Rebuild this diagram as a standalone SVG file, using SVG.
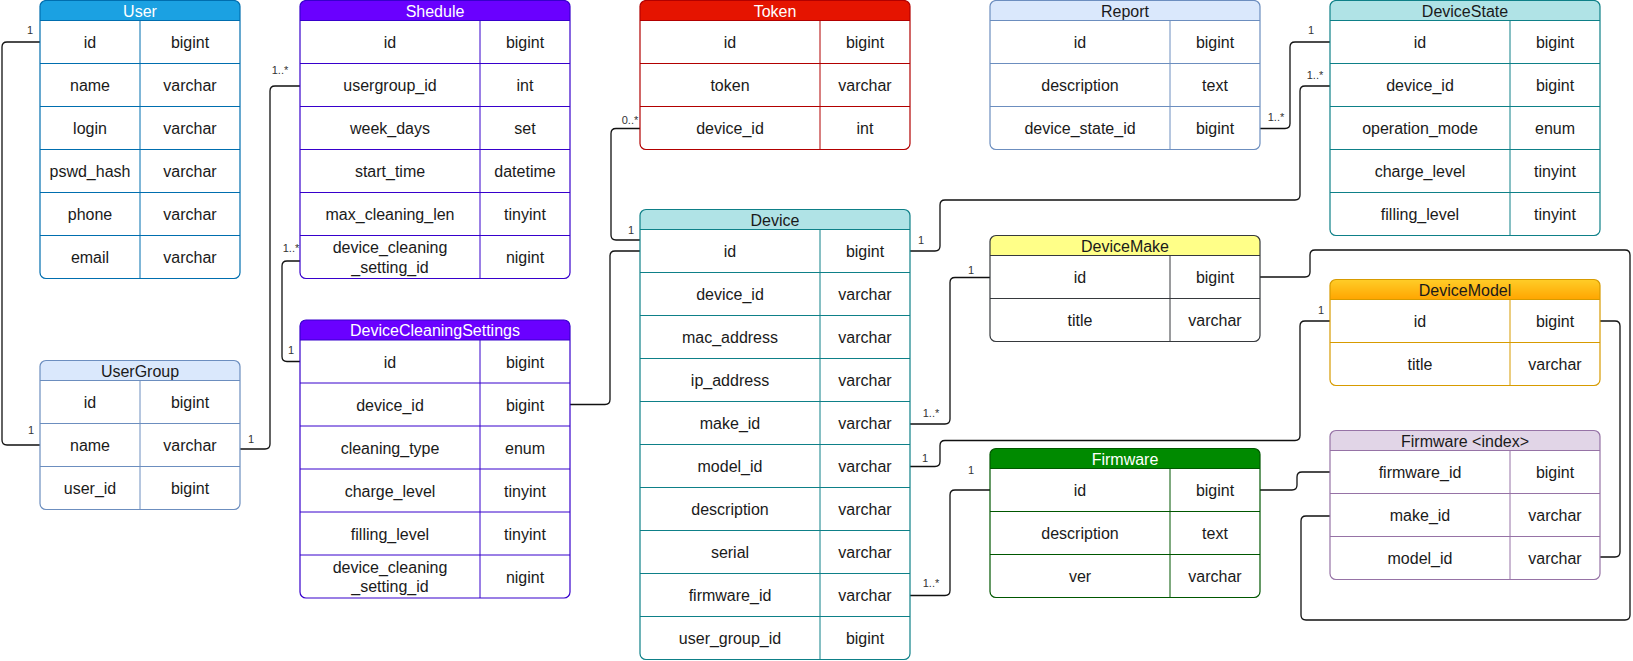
<svg xmlns="http://www.w3.org/2000/svg" width="1633" height="661" viewBox="0 0 1633 661">
  <defs>
    <linearGradient id="gradOrange" x1="0" y1="0" x2="0" y2="1">
      <stop offset="0" stop-color="#ffcd28"/>
      <stop offset="1" stop-color="#ffa500"/>
    </linearGradient>
  </defs>
  <style>
    text { font-family: "Liberation Sans", Arial, Helvetica, sans-serif; }
    .body { fill: #ffffff; stroke: none; }
    .frame { fill: none; stroke-width: 1.2; }
    .grid { fill: none; stroke-width: 1; }
    .cell { font-size: 16px; fill: #1a1a1a; text-anchor: middle; }
    .title { font-size: 16px; text-anchor: middle; fill: #1a1a1a; }
    .light .title { fill: #ffffff; }
    .blue .frame, .blue .grid { stroke: #006eaf; } .blue .hdr { fill: #1ba1e2; }
    .violet .frame, .violet .grid { stroke: #3700cc; } .violet .hdr { fill: #6a00ff; }
    .red .frame, .red .grid { stroke: #b20000; } .red .hdr { fill: #e51400; }
    .pale .frame, .pale .grid { stroke: #6c8ebf; } .pale .hdr { fill: #dae8fc; }
    .teal .frame, .teal .grid { stroke: #0e8088; } .teal .hdr { fill: #b0e3e6; }
    .yellow .frame, .yellow .grid { stroke: #36393d; } .yellow .hdr { fill: #ffff88; }
    .orange .frame, .orange .grid { stroke: #d79b00; } .orange .hdr { fill: url(#gradOrange); }
    .green .frame, .green .grid { stroke: #005700; } .green .hdr { fill: #008a00; }
    .purple .frame, .purple .grid { stroke: #9673a6; } .purple .hdr { fill: #e1d5e7; }
    .edge { fill: none; stroke: #111111; stroke-width: 1.3; }
    .lbl { font-size: 11px; fill: #333333; text-anchor: middle; }
  </style>

  <!-- connectors -->
  <g id="connectors">
    <path class="edge" d="M40,42 H7 Q2,42 2,47 V440 Q2,445 7,445 H40"/>
    <path class="edge" d="M240,449 H265 Q270,449 270,444 V91 Q270,86 275,86 H300"/>
    <path class="edge" d="M300,261 H287 Q282,261 282,266 V356.5 Q282,361.5 287,361.5 H300"/>
    <path class="edge" d="M570,404.5 H605 Q610,404.5 610,399.5 V256 Q610,251 615,251 H640"/>
    <path class="edge" d="M640,128.5 H616 Q611,128.5 611,133.5 V235 Q611,240 616,240 H640"/>
    <path class="edge" d="M910,251 H935 Q940,251 940,246 V205 Q940,200 945,200 H1295 Q1300,200 1300,195 V91 Q1300,86 1305,86 H1330"/>
    <path class="edge" d="M1260,128.5 H1285 Q1290,128.5 1290,123.5 V47 Q1290,42 1295,42 H1330"/>
    <path class="edge" d="M910,424 H945 Q950,424 950,419 V282.5 Q950,277.5 955,277.5 H990"/>
    <path class="edge" d="M910,466.5 H935 Q940,466.5 940,461.5 V445.5 Q940,440.5 945,440.5 H1295 Q1300,440.5 1300,435.5 V326 Q1300,321 1305,321 H1330"/>
    <path class="edge" d="M910,595.5 H945 Q950,595.5 950,590.5 V495 Q950,490 955,490 H990"/>
    <path class="edge" d="M1260,490 H1292 Q1297,490 1297,485 V477 Q1297,472 1302,472 H1330"/>
    <path class="edge" d="M1260,277 H1305 Q1310,277 1310,272 V255 Q1310,250 1315,250 H1625 Q1630,250 1630,255 V615 Q1630,620 1625,620 H1306 Q1301,620 1301,615 V521 Q1301,516 1306,516 H1330"/>
    <path class="edge" d="M1600,321 H1615 Q1620,321 1620,326 V552 Q1620,557 1615,557 H1600"/>

    <!-- multiplicities -->
    <text class="lbl" x="30" y="34">1</text>
    <text class="lbl" x="31" y="434">1</text>
    <text class="lbl" x="251" y="443">1</text>
    <text class="lbl" x="280" y="74">1..*</text>
    <text class="lbl" x="291" y="252">1..*</text>
    <text class="lbl" x="291" y="354">1</text>
    <text class="lbl" x="630" y="124">0..*</text>
    <text class="lbl" x="631" y="234">1</text>
    <text class="lbl" x="921" y="244">1</text>
    <text class="lbl" x="1315" y="79">1..*</text>
    <text class="lbl" x="1276" y="121">1..*</text>
    <text class="lbl" x="1311" y="34">1</text>
    <text class="lbl" x="931" y="417">1..*</text>
    <text class="lbl" x="971" y="274">1</text>
    <text class="lbl" x="925" y="462">1</text>
    <text class="lbl" x="1321" y="314">1</text>
    <text class="lbl" x="931" y="587">1..*</text>
    <text class="lbl" x="971" y="474">1</text>
  </g>

  <!-- User -->
  <g id="user" class="blue light">
    <rect class="body" x="40" y="0.5" width="200" height="278" rx="6"/>
    <path class="hdr" d="M40,20.5 V6.5 A6,6 0 0 1 46,0.5 H234 A6,6 0 0 1 240,6.5 V20.5 Z"/>
    <path class="grid" d="M40,20.5 H240 M40,63.5 H240 M40,106.5 H240 M40,149.5 H240 M40,192.5 H240 M40,235.5 H240 M140,20.5 V278.5"/>
    <rect class="frame" x="40" y="0.5" width="200" height="278" rx="6"/>
    <text class="title" x="140" y="16.5">User</text>
    <text class="cell" x="90" y="48">id</text><text class="cell" x="190" y="48">bigint</text>
    <text class="cell" x="90" y="91">name</text><text class="cell" x="190" y="91">varchar</text>
    <text class="cell" x="90" y="134">login</text><text class="cell" x="190" y="134">varchar</text>
    <text class="cell" x="90" y="177">pswd_hash</text><text class="cell" x="190" y="177">varchar</text>
    <text class="cell" x="90" y="220">phone</text><text class="cell" x="190" y="220">varchar</text>
    <text class="cell" x="90" y="263">email</text><text class="cell" x="190" y="263">varchar</text>
  </g>

  <!-- Shedule -->
  <g id="shedule" class="violet light">
    <rect class="body" x="300" y="0.5" width="270" height="278" rx="6"/>
    <path class="hdr" d="M300,20.5 V6.5 A6,6 0 0 1 306,0.5 H564 A6,6 0 0 1 570,6.5 V20.5 Z"/>
    <path class="grid" d="M300,20.5 H570 M300,63.5 H570 M300,106.5 H570 M300,149.5 H570 M300,192.5 H570 M300,235.5 H570 M480,20.5 V278.5"/>
    <rect class="frame" x="300" y="0.5" width="270" height="278" rx="6"/>
    <text class="title" x="435" y="16.5">Shedule</text>
    <text class="cell" x="390" y="48">id</text><text class="cell" x="525" y="48">bigint</text>
    <text class="cell" x="390" y="91">usergroup_id</text><text class="cell" x="525" y="91">int</text>
    <text class="cell" x="390" y="134">week_days</text><text class="cell" x="525" y="134">set</text>
    <text class="cell" x="390" y="177">start_time</text><text class="cell" x="525" y="177">datetime</text>
    <text class="cell" x="390" y="220">max_cleaning_len</text><text class="cell" x="525" y="220">tinyint</text>
    <text class="cell" x="390" y="253">device_cleaning</text>
    <text class="cell" x="390" y="272.5">_setting_id</text>
    <text class="cell" x="525" y="263">nigint</text>
  </g>

  <!-- Token -->
  <g id="token" class="red light">
    <rect class="body" x="640" y="0.5" width="270" height="149" rx="6"/>
    <path class="hdr" d="M640,20.5 V6.5 A6,6 0 0 1 646,0.5 H904 A6,6 0 0 1 910,6.5 V20.5 Z"/>
    <path class="grid" d="M640,20.5 H910 M640,63.5 H910 M640,106.5 H910 M820,20.5 V149.5"/>
    <rect class="frame" x="640" y="0.5" width="270" height="149" rx="6"/>
    <text class="title" x="775" y="16.5">Token</text>
    <text class="cell" x="730" y="48">id</text><text class="cell" x="865" y="48">bigint</text>
    <text class="cell" x="730" y="91">token</text><text class="cell" x="865" y="91">varchar</text>
    <text class="cell" x="730" y="134">device_id</text><text class="cell" x="865" y="134">int</text>
  </g>

  <!-- Report -->
  <g id="report" class="pale">
    <rect class="body" x="990" y="0.5" width="270" height="149" rx="6"/>
    <path class="hdr" d="M990,20.5 V6.5 A6,6 0 0 1 996,0.5 H1254 A6,6 0 0 1 1260,6.5 V20.5 Z"/>
    <path class="grid" d="M990,20.5 H1260 M990,63.5 H1260 M990,106.5 H1260 M1170,20.5 V149.5"/>
    <rect class="frame" x="990" y="0.5" width="270" height="149" rx="6"/>
    <text class="title" x="1125" y="16.5">Report</text>
    <text class="cell" x="1080" y="48">id</text><text class="cell" x="1215" y="48">bigint</text>
    <text class="cell" x="1080" y="91">description</text><text class="cell" x="1215" y="91">text</text>
    <text class="cell" x="1080" y="134">device_state_id</text><text class="cell" x="1215" y="134">bigint</text>
  </g>

  <!-- DeviceState -->
  <g id="device-state" class="teal">
    <rect class="body" x="1330" y="0.5" width="270" height="235" rx="6"/>
    <path class="hdr" d="M1330,20.5 V6.5 A6,6 0 0 1 1336,0.5 H1594 A6,6 0 0 1 1600,6.5 V20.5 Z"/>
    <path class="grid" d="M1330,20.5 H1600 M1330,63.5 H1600 M1330,106.5 H1600 M1330,149.5 H1600 M1330,192.5 H1600 M1510,20.5 V235.5"/>
    <rect class="frame" x="1330" y="0.5" width="270" height="235" rx="6"/>
    <text class="title" x="1465" y="16.5">DeviceState</text>
    <text class="cell" x="1420" y="48">id</text><text class="cell" x="1555" y="48">bigint</text>
    <text class="cell" x="1420" y="91">device_id</text><text class="cell" x="1555" y="91">bigint</text>
    <text class="cell" x="1420" y="134">operation_mode</text><text class="cell" x="1555" y="134">enum</text>
    <text class="cell" x="1420" y="177">charge_level</text><text class="cell" x="1555" y="177">tinyint</text>
    <text class="cell" x="1420" y="220">filling_level</text><text class="cell" x="1555" y="220">tinyint</text>
  </g>

  <!-- UserGroup -->
  <g id="user-group" class="pale">
    <rect class="body" x="40" y="360.5" width="200" height="149" rx="6"/>
    <path class="hdr" d="M40,380.5 V366.5 A6,6 0 0 1 46,360.5 H234 A6,6 0 0 1 240,366.5 V380.5 Z"/>
    <path class="grid" d="M40,380.5 H240 M40,423.5 H240 M40,466.5 H240 M140,380.5 V509.5"/>
    <rect class="frame" x="40" y="360.5" width="200" height="149" rx="6"/>
    <text class="title" x="140" y="376.5">UserGroup</text>
    <text class="cell" x="90" y="408">id</text><text class="cell" x="190" y="408">bigint</text>
    <text class="cell" x="90" y="451">name</text><text class="cell" x="190" y="451">varchar</text>
    <text class="cell" x="90" y="494">user_id</text><text class="cell" x="190" y="494">bigint</text>
  </g>

  <!-- DeviceCleaningSettings -->
  <g id="device-cleaning-settings" class="violet light">
    <rect class="body" x="300" y="320" width="270" height="278" rx="6"/>
    <path class="hdr" d="M300,340 V326 A6,6 0 0 1 306,320 H564 A6,6 0 0 1 570,326 V340 Z"/>
    <path class="grid" d="M300,340 H570 M300,383 H570 M300,426 H570 M300,469 H570 M300,512 H570 M300,555 H570 M480,340 V598"/>
    <rect class="frame" x="300" y="320" width="270" height="278" rx="6"/>
    <text class="title" x="435" y="336">DeviceCleaningSettings</text>
    <text class="cell" x="390" y="367.5">id</text><text class="cell" x="525" y="367.5">bigint</text>
    <text class="cell" x="390" y="410.5">device_id</text><text class="cell" x="525" y="410.5">bigint</text>
    <text class="cell" x="390" y="453.5">cleaning_type</text><text class="cell" x="525" y="453.5">enum</text>
    <text class="cell" x="390" y="496.5">charge_level</text><text class="cell" x="525" y="496.5">tinyint</text>
    <text class="cell" x="390" y="539.5">filling_level</text><text class="cell" x="525" y="539.5">tinyint</text>
    <text class="cell" x="390" y="573">device_cleaning</text>
    <text class="cell" x="390" y="592">_setting_id</text>
    <text class="cell" x="525" y="582.5">nigint</text>
  </g>

  <!-- Device -->
  <g id="device" class="teal">
    <rect class="body" x="640" y="209.5" width="270" height="450" rx="6"/>
    <path class="hdr" d="M640,229.5 V215.5 A6,6 0 0 1 646,209.5 H904 A6,6 0 0 1 910,215.5 V229.5 Z"/>
    <path class="grid" d="M640,229.5 H910 M640,272.5 H910 M640,315.5 H910 M640,358.5 H910 M640,401.5 H910 M640,444.5 H910 M640,487.5 H910 M640,530.5 H910 M640,573.5 H910 M640,616.5 H910 M820,229.5 V659.5"/>
    <rect class="frame" x="640" y="209.5" width="270" height="450" rx="6"/>
    <text class="title" x="775" y="225.5">Device</text>
    <text class="cell" x="730" y="257">id</text><text class="cell" x="865" y="257">bigint</text>
    <text class="cell" x="730" y="300">device_id</text><text class="cell" x="865" y="300">varchar</text>
    <text class="cell" x="730" y="343">mac_address</text><text class="cell" x="865" y="343">varchar</text>
    <text class="cell" x="730" y="386">ip_address</text><text class="cell" x="865" y="386">varchar</text>
    <text class="cell" x="730" y="429">make_id</text><text class="cell" x="865" y="429">varchar</text>
    <text class="cell" x="730" y="472">model_id</text><text class="cell" x="865" y="472">varchar</text>
    <text class="cell" x="730" y="515">description</text><text class="cell" x="865" y="515">varchar</text>
    <text class="cell" x="730" y="558">serial</text><text class="cell" x="865" y="558">varchar</text>
    <text class="cell" x="730" y="601">firmware_id</text><text class="cell" x="865" y="601">varchar</text>
    <text class="cell" x="730" y="644">user_group_id</text><text class="cell" x="865" y="644">bigint</text>
  </g>

  <!-- DeviceMake -->
  <g id="device-make" class="yellow">
    <rect class="body" x="990" y="235.5" width="270" height="106" rx="6"/>
    <path class="hdr" d="M990,255.5 V241.5 A6,6 0 0 1 996,235.5 H1254 A6,6 0 0 1 1260,241.5 V255.5 Z"/>
    <path class="grid" d="M990,255.5 H1260 M990,298.5 H1260 M1170,255.5 V341.5"/>
    <rect class="frame" x="990" y="235.5" width="270" height="106" rx="6"/>
    <text class="title" x="1125" y="251.5">DeviceMake</text>
    <text class="cell" x="1080" y="283">id</text><text class="cell" x="1215" y="283">bigint</text>
    <text class="cell" x="1080" y="326">title</text><text class="cell" x="1215" y="326">varchar</text>
  </g>

  <!-- DeviceModel -->
  <g id="device-model" class="orange">
    <rect class="body" x="1330" y="279.5" width="270" height="106" rx="6"/>
    <path class="hdr" d="M1330,299.5 V285.5 A6,6 0 0 1 1336,279.5 H1594 A6,6 0 0 1 1600,285.5 V299.5 Z"/>
    <path class="grid" d="M1330,299.5 H1600 M1330,342.5 H1600 M1510,299.5 V385.5"/>
    <rect class="frame" x="1330" y="279.5" width="270" height="106" rx="6"/>
    <text class="title" x="1465" y="295.5">DeviceModel</text>
    <text class="cell" x="1420" y="327">id</text><text class="cell" x="1555" y="327">bigint</text>
    <text class="cell" x="1420" y="370">title</text><text class="cell" x="1555" y="370">varchar</text>
  </g>

  <!-- Firmware -->
  <g id="firmware" class="green light">
    <rect class="body" x="990" y="448.5" width="270" height="149" rx="6"/>
    <path class="hdr" d="M990,468.5 V454.5 A6,6 0 0 1 996,448.5 H1254 A6,6 0 0 1 1260,454.5 V468.5 Z"/>
    <path class="grid" d="M990,468.5 H1260 M990,511.5 H1260 M990,554.5 H1260 M1170,468.5 V597.5"/>
    <rect class="frame" x="990" y="448.5" width="270" height="149" rx="6"/>
    <text class="title" x="1125" y="464.5">Firmware</text>
    <text class="cell" x="1080" y="496">id</text><text class="cell" x="1215" y="496">bigint</text>
    <text class="cell" x="1080" y="539">description</text><text class="cell" x="1215" y="539">text</text>
    <text class="cell" x="1080" y="582">ver</text><text class="cell" x="1215" y="582">varchar</text>
  </g>

  <!-- Firmware index -->
  <g id="firmware-index" class="purple">
    <rect class="body" x="1330" y="430.5" width="270" height="149" rx="6"/>
    <path class="hdr" d="M1330,450.5 V436.5 A6,6 0 0 1 1336,430.5 H1594 A6,6 0 0 1 1600,436.5 V450.5 Z"/>
    <path class="grid" d="M1330,450.5 H1600 M1330,493.5 H1600 M1330,536.5 H1600 M1510,450.5 V579.5"/>
    <rect class="frame" x="1330" y="430.5" width="270" height="149" rx="6"/>
    <text class="title" x="1465" y="446.5">Firmware &lt;index&gt;</text>
    <text class="cell" x="1420" y="478">firmware_id</text><text class="cell" x="1555" y="478">bigint</text>
    <text class="cell" x="1420" y="521">make_id</text><text class="cell" x="1555" y="521">varchar</text>
    <text class="cell" x="1420" y="564">model_id</text><text class="cell" x="1555" y="564">varchar</text>
  </g>
</svg>
